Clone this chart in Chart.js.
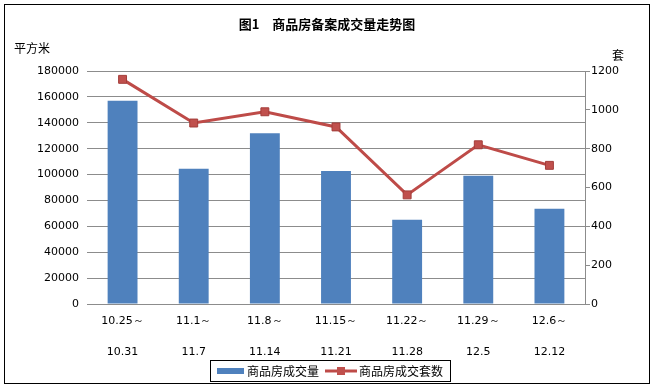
<!DOCTYPE html>
<html>
<head>
<meta charset="utf-8">
<script src="https://cdn.jsdelivr.net/npm/chart.js@4/dist/chart.umd.min.js"></script>
<style>
  html, body { margin: 0; padding: 0; background: #fff; }
  #wrap { width: 654px; height: 390px; position: relative; }
</style>
</head>
<body>
<div id="wrap"><canvas id="trendChart" width="654" height="390"></canvas></div>
<script>
// 周期标签（两行）
const weekLabels = [
  ["10.25～", "10.31"],
  ["11.1～", "11.7"],
  ["11.8～", "11.14"],
  ["11.15～", "11.21"],
  ["11.22～", "11.28"],
  ["11.29～", "12.5"],
  ["12.6～", "12.12"]
];
// 商品房成交量（平方米）
const areaValues = [157000, 104500, 132000, 102800, 65000, 99000, 73500];
// 商品房成交套数（套）
const unitValues = [1157, 932, 990, 912, 562, 820, 714];

const titleText = "图1　商品房备案成交量走势图";
const leftUnit = "平方米";
const rightUnit = "套";
const seriesNames = ["商品房成交量", "商品房成交套数"];

const barColor = "#4F81BD";
const lineColor = "#BE4B48";
const gridColor = "#8C8C8C";
const cjkFont = "'Noto Sans CJK SC', 'DejaVu Sans', sans-serif";
const numFont = "'DejaVu Sans', sans-serif";

// 外框、标题、单位和图例
const decorPlugin = {
  id: "decor",
  afterDraw(chart) {
    const ctx = chart.ctx;
    ctx.save();
    ctx.strokeStyle = "#000";
    ctx.lineWidth = 1;
    ctx.strokeRect(4.5, 4.5, 645, 379);

    ctx.fillStyle = "#000";
    ctx.font = "bold 13px " + cjkFont;
    ctx.textAlign = "center";
    ctx.textBaseline = "middle";
    ctx.fillText(titleText, 327, 24);

    ctx.font = "12px " + cjkFont;
    ctx.textAlign = "left";
    ctx.fillText(leftUnit, 14, 48);
    ctx.fillText(rightUnit, 612, 55);

    // 图例
    ctx.strokeRect(210.5, 360.5, 240, 21);
    ctx.fillStyle = barColor;
    ctx.fillRect(217, 368, 27, 6);
    ctx.fillStyle = "#000";
    ctx.fillText(seriesNames[0], 247, 371);
    ctx.strokeStyle = lineColor;
    ctx.lineWidth = 3;
    ctx.beginPath();
    ctx.moveTo(325, 371);
    ctx.lineTo(357, 371);
    ctx.stroke();
    ctx.fillStyle = "#C0504D";
    ctx.fillRect(337, 367, 8, 8);
    ctx.fillStyle = "#000";
    ctx.fillText(seriesNames[1], 359, 371);
    ctx.restore();
  }
};

const plainNumber = (v) => String(v);

const ctx = document.getElementById("trendChart").getContext("2d");
const chart = new Chart(ctx, {
  data: {
    labels: weekLabels,
    datasets: [
      {
        type: "line",
        label: seriesNames[1],
        data: unitValues,
        yAxisID: "yRight",
        borderColor: lineColor,
        borderWidth: 3,
        pointStyle: "rect",
        pointRadius: 5.6,
        pointBackgroundColor: "#C0504D",
        pointBorderColor: "#A33D3A",
        pointBorderWidth: 1,
        tension: 0,
        order: 0
      },
      {
        type: "bar",
        label: seriesNames[0],
        data: areaValues,
        yAxisID: "yLeft",
        backgroundColor: barColor,
        barPercentage: 0.42,
        categoryPercentage: 1,
        order: 1
      }
    ]
  },
  options: {
    responsive: false,
    animation: false,
    layout: { padding: { top: 71, left: 0, right: 0, bottom: 0 } },
    plugins: {
      legend: { display: false },
      title: { display: false },
      tooltip: { enabled: false }
    },
    scales: {
      x: {
        grid: { display: false, drawTicks: false },
        border: { display: true, color: gridColor },
        ticks: {
          color: "#000",
          padding: 1,
          maxRotation: 0,
          autoSkip: false,
          font: { family: numFont, size: 11, lineHeight: 2.88 }
        },
        afterFit(scale) { scale.height = 86; }
      },
      yLeft: {
        position: "left",
        min: 0,
        max: 180000,
        grid: { color: gridColor, drawTicks: false },
        border: { display: false },
        ticks: {
          stepSize: 20000,
          padding: 8,
          color: "#000",
          callback: plainNumber,
          font: { family: numFont, size: 11 }
        },
        afterFit(scale) { scale.width = 87; }
      },
      yRight: {
        position: "right",
        min: 0,
        max: 1200,
        grid: { drawOnChartArea: false, drawTicks: true, tickLength: 5, color: gridColor },
        border: { display: true, color: gridColor },
        ticks: {
          stepSize: 200,
          padding: 1,
          color: "#000",
          callback: plainNumber,
          font: { family: numFont, size: 11 }
        },
        afterFit(scale) { scale.width = 69; }
      }
    }
  },
  plugins: [decorPlugin]
});
</script>
</body>
</html>
